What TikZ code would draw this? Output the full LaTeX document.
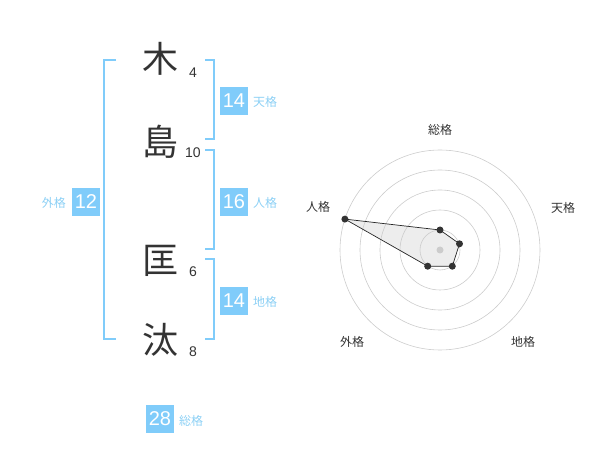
\documentclass[tikz,border=0pt]{standalone}
\usepackage{fontspec}
\setmainfont{Liberation Sans}
\newfontfamily\jp{Noto Sans CJK JP}
\usepackage{xcolor}
\definecolor{kakublue}{RGB}{128,204,250}
\definecolor{kakutext}{RGB}{140,208,245}

\begin{document}
\begin{tikzpicture}[x=1pt,y=-1pt]
\tikzstyle{every node}=[inner sep=0pt]
\tikzstyle{kanji}=[font=\jp\fontsize{36}{36}\selectfont, text=black!80]
\tikzstyle{strokes}=[font=\fontsize{14}{14}\selectfont, text=black!80]
\tikzstyle{score}=[fill=kakublue, text=white, minimum width=28, minimum height=28, font=\fontsize{20}{20}\selectfont]
\tikzstyle{kaku}=[font=\jp\fontsize{12}{12}\selectfont, text=kakutext, anchor=west]
\tikzstyle{bracket}=[draw=kakublue, line width=1.5pt]
\tikzstyle{ring}=[draw=black!20, line width=0.6pt]
\tikzstyle{axis}=[font=\jp\fontsize{12}{12}\selectfont, text=black!80]
\tikzstyle{dot}=[circle, fill=black!80, minimum size=7]
\useasboundingbox (0,0) rectangle (600,470);
% name
\node [kanji] (ki) at (160,59) {木};
\node [kanji] (shima) at (160,142) {島};
\node [kanji] (tada) at (160,261) {匡};
\node [kanji] (ta) at (160,340) {汰};
\node [strokes] (n1) at (193,73) {4};
\node [strokes] (n2) at (193,153) {10};
\node [strokes] (n3) at (193,272) {6};
\node [strokes] (n4) at (193,352) {8};
% brackets
\draw [bracket] (116,60) -- (104,60) -- (104,339) -- (116,339);
\draw [bracket] (205,60) -- (214,60) -- (214,139) -- (205,139);
\draw [bracket] (205,150) -- (214,150) -- (214,249) -- (205,249);
\draw [bracket] (205,259) -- (214,259) -- (214,339) -- (205,339);
% scores
\node [score] (ten) at (234,101) {14};
\node [kaku] at (253,102) {天格};
\node [score] (jin) at (234,202) {16};
\node [kaku] at (253,203) {人格};
\node [score] (chi) at (234,301) {14};
\node [kaku] at (253,302) {地格};
\node [score] (gai) at (86,202) {12};
\node [kaku, anchor=east] at (66,203) {外格};
\node [score] (so) at (160,419) {28};
\node [kaku] at (179,421) {総格};
% radar
\coordinate (c) at (440,250);
\coordinate (p1) at (440,230);
\coordinate (p2) at (459.5,243.8);
\coordinate (p3) at (452.3,266.2);
\coordinate (p4) at (427.7,266.2);
\coordinate (p5) at (344.9,219.1);
\fill [black!7] (p1) -- (p2) -- (p3) -- (p4) -- (p5) -- cycle;
\foreach \r in {20,40,...,100}
  \draw [ring] (c) circle (\r pt);
\fill [black!20] (c) circle (3.5pt);
\draw [black!85, line width=0.7pt] (p1) -- (p2) -- (p3) -- (p4) -- (p5) -- cycle;
\foreach \p in {p1,p2,p3,p4,p5}
  \node [dot] at (\p) {};
\node [axis] (a1) at (440,130) {総格};
\node [axis] (a2) at (563,208) {天格};
\node [axis] (a3) at (523,342) {地格};
\node [axis] (a4) at (352,342) {外格};
\node [axis] (a5) at (318,207) {人格};
\end{tikzpicture}
\end{document}
